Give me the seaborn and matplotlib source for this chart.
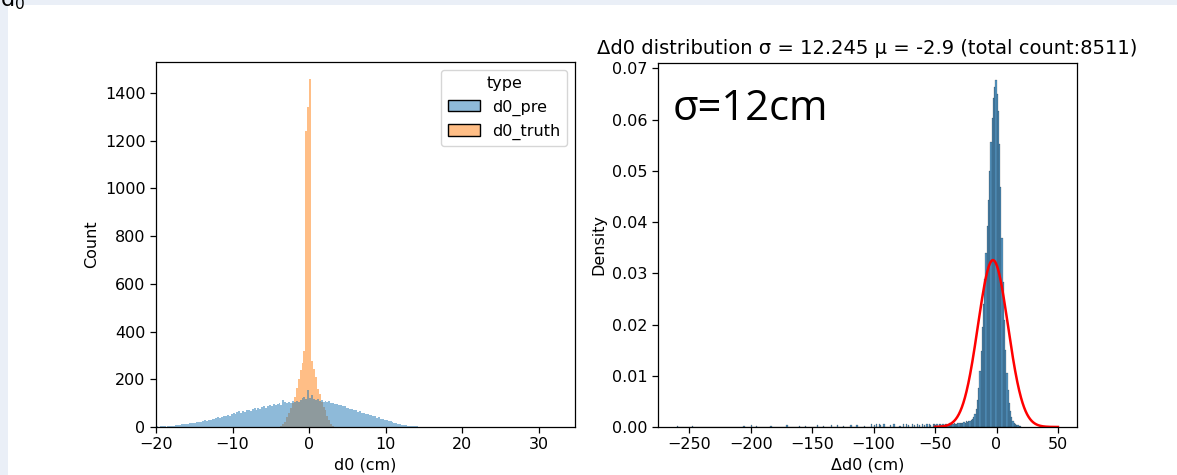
import numpy as np
import pandas as pd
import matplotlib
matplotlib.use("Agg")
import matplotlib.pyplot as plt
from matplotlib.patches import Rectangle
import seaborn as sns

# ---- d0 histogram (counts per 0.25 cm bin) ----
d0_bin_start = -20.0
d0_bin_stop = 16.0
d0_bin_width = 0.25

# d0_pre: bins from -20 to 16 cm
d0_pre_counts = [
    3, 2, 4, 3, 5, 2, 4, 6,
    6, 5, 8, 10, 9, 12, 11, 14,
    13, 16, 15, 18, 17, 21, 20, 23,
    24, 28, 26, 31, 30, 34, 33, 38,
    40, 37, 43, 46, 44, 50, 48, 54,
    60, 55, 63, 66, 60, 67, 64, 70,
    72, 67, 75, 78, 73, 80, 77, 83,
    86, 81, 89, 92, 87, 95, 91, 97,
    99, 94, 112, 103, 100, 106, 102, 108,
    103, 109, 106, 112, 120, 125, 118, 157,
    122, 135, 116, 112, 118, 109, 113, 106,
    110, 103, 107, 99, 102, 95, 97, 92,
    92, 86, 87, 80, 81, 75, 76, 70,
    71, 64, 66, 59, 60, 54, 55, 49,
    50, 44, 45, 39, 40, 34, 35, 30,
    30, 26, 24, 20, 18, 15, 14, 12,
    10, 9, 7, 6, 5, 4, 4, 3,
    3, 2, 2, 2, 1, 1, 1, 0,
]

# d0_truth: bins from -4 to 3.25 cm
d0_truth_start = -4.0
d0_truth_counts = [
    2, 5, 12, 22, 40, 60, 80, 100, 125, 162, 200, 240, 270, 320,
    1240, 1340, 1456,
    275, 245, 210, 160, 140, 105, 85, 70, 45, 28, 12, 4,
]

# ---- Δd0 histogram (counts per 1 cm bin) ----
delta_bin_start = -260.0
delta_bin_stop = 20.0
delta_bin_width = 1.0
delta_core_start = -50.0
delta_core_counts = [
    3, 4, 2, 4, 5, 3, 4, 3, 5, 4, 3, 6, 4, 5, 4, 6, 5, 4, 6, 7,
    6, 7, 6, 8, 7, 9, 8, 10, 9, 11,
    13, 16, 21, 28, 42, 62, 88, 120, 158, 195,
    235, 275, 318, 360, 405, 452, 490, 522, 538, 550,
    528, 500, 448, 380, 300, 230, 170, 122, 85, 58,
    38, 25, 16, 10, 7, 5, 3, 3, 2, 2,
]
delta_tail_centers = [
    -259.5, -247.5, -205.5, -199.5, -195.5, -183.5, -170.5, -160.5, -155.5, -145.5,
    -140.5, -134.5, -129.5, -124.5, -118.5, -113.5, -107.5, -101.5, -99.5, -97.5,
    -95.5, -94.5, -91.5, -86.5, -83.5, -78.5, -75.5, -73.5, -71.5, -68.5,
    -66.5, -64.5, -62.5, -60.5, -58.5, -56.5, -54.5, -53.5, -51.5, -50.5,
]
delta_tail_counts = [
    2, 2, 2, 3, 2, 2, 3, 2, 2, 3,
    2, 3, 3, 2, 3, 3, 2, 4, 3, 5,
    4, 3, 4, 3, 4, 2, 5, 4, 3, 4,
    3, 5, 3, 4, 3, 5, 4, 3, 5, 4,
]

fit_mu = -2.9
fit_sigma = 12.245
total_count = 8511

# ---- build tables ----
pre_centers = d0_bin_start + d0_bin_width * (np.arange(len(d0_pre_counts)) + 0.5)
truth_centers = d0_truth_start + d0_bin_width * (np.arange(len(d0_truth_counts)) + 0.5)
d0_df = pd.DataFrame({
    "d0": np.concatenate([pre_centers, truth_centers]),
    "n": np.concatenate([d0_pre_counts, d0_truth_counts]).astype(float),
    "type": ["d0_pre"] * len(d0_pre_counts) + ["d0_truth"] * len(d0_truth_counts),
})

core_centers = delta_core_start + delta_bin_width * (np.arange(len(delta_core_counts)) + 0.5)
delta_df = pd.DataFrame({
    "delta": np.concatenate([delta_tail_centers, core_centers]),
    "n": np.concatenate([delta_tail_counts, delta_core_counts]).astype(float),
})

plt.rcParams.update({
    "font.size": 11.5,
    "axes.titlesize": 14,
    "axes.linewidth": 0.9,
    "xtick.major.size": 4,
    "ytick.major.size": 4,
    "xtick.major.width": 0.9,
    "ytick.major.width": 0.9,
})

W, H = 1177, 475
fig = plt.figure(figsize=(W / 100, H / 100), dpi=100)
fig.patch.set_facecolor("#eaeff7")
fig.add_artist(Rectangle((8 / W, 0), 1 - 8 / W, 1 - 5 / H, transform=fig.transFigure,
                         facecolor="white", edgecolor="none", zorder=0))
# slide heading above the figure
fig.text(0 / W, 1 - 6 / H, r"$\mathregular{d_0}$", fontsize=16, va="baseline", color="black")

ax1 = fig.add_axes([156 / W, (H - 427) / H, 419 / W, 365 / H])
ax2 = fig.add_axes([658 / W, (H - 427) / H, 419 / W, 364.5 / H])

ax1.set_xlim(-20, 34.7)
sns.histplot(data=d0_df, x="d0", weights="n", hue="type",
             binwidth=d0_bin_width, binrange=(d0_bin_start, d0_bin_stop), ax=ax1)
for bar in ax1.patches:
    bar.set_linewidth(0)
ax1.set_xlabel("d0 (cm)")
ax1.set_ylabel("Count")

ax2.set_xlim(-275.5, 65.5)
sns.histplot(data=delta_df, x="delta", weights="n", stat="density",
             binwidth=delta_bin_width, binrange=(delta_bin_start, delta_bin_stop),
             linewidth=0.12, ax=ax2)
xg = np.linspace(-50, 50, 400)
pdf = np.exp(-0.5 * ((xg - fit_mu) / fit_sigma) ** 2) / (fit_sigma * np.sqrt(2 * np.pi))
ax2.plot(xg, pdf, color="red", lw=1.8)
ax2.set_xlabel("\u0394d0 (cm)")
ax2.set_ylabel("Density")
ax2.set_title(f"\u0394d0 distribution \u03c3 = {fit_sigma} \u03bc = {fit_mu} (total count:{total_count})")
ax2.text(0.036, 0.841, "\u03c3=12cm", transform=ax2.transAxes, fontsize=30,
         family=["Open Sans", "DejaVu Sans"], va="baseline", ha="left")

fig.savefig("out.png", dpi=100, facecolor=fig.get_facecolor())
